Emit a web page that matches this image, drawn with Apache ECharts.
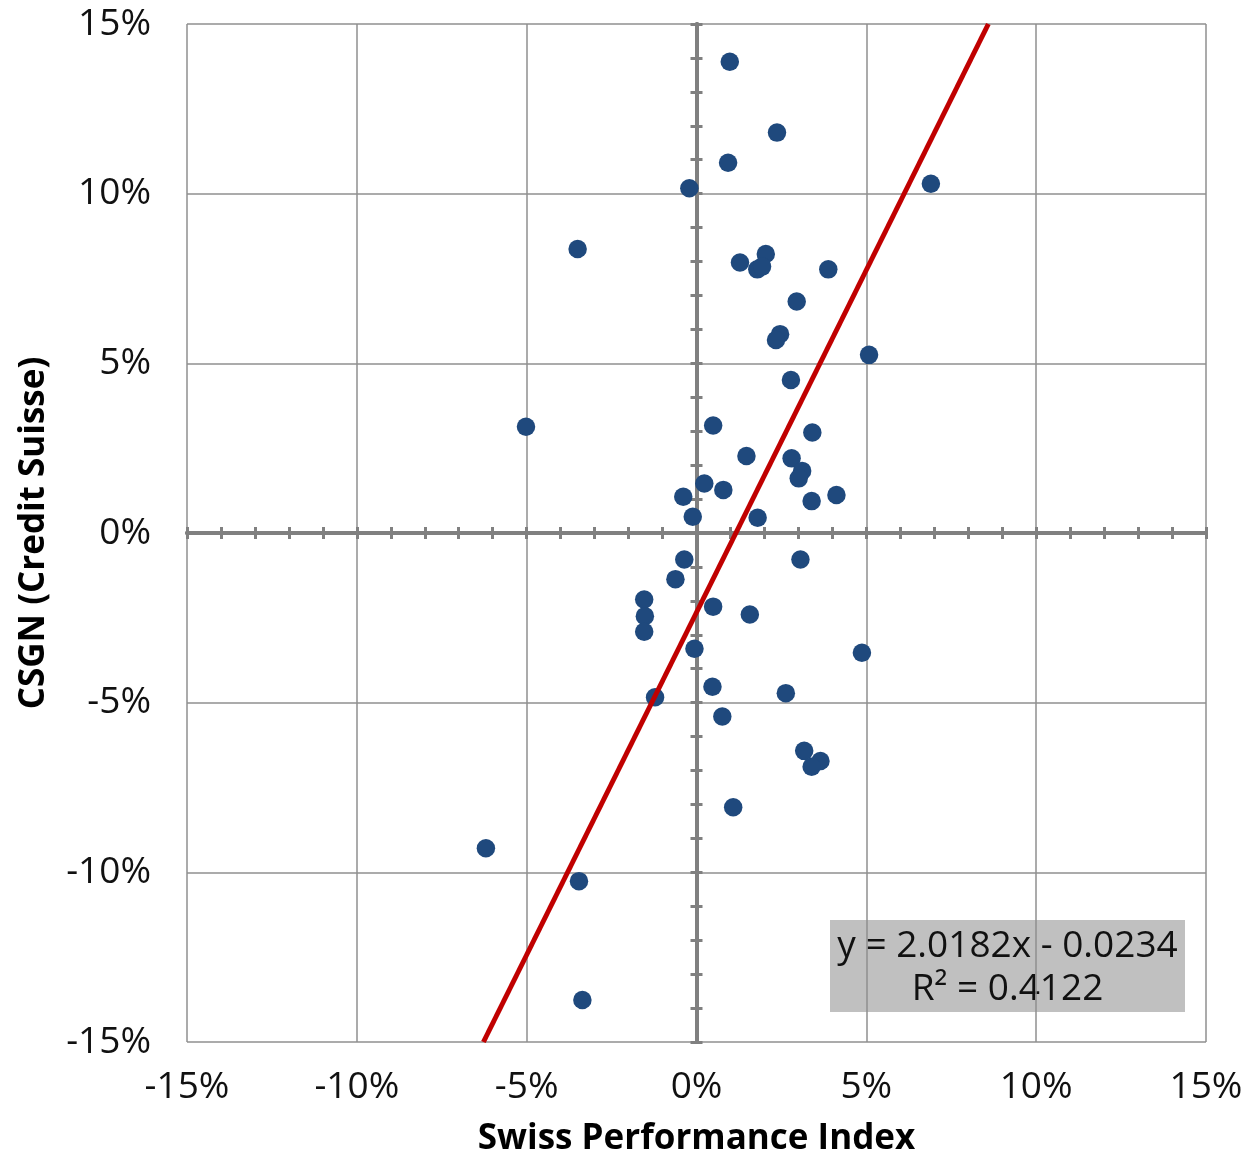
<!DOCTYPE html>
<html>
<head>
<meta charset="utf-8">
<title>CSGN vs Swiss Performance Index</title>
<script src="https://cdn.jsdelivr.net/npm/echarts@6/dist/echarts.min.js"></script>
<style>
  html, body { margin: 0; padding: 0; background: #ffffff; }
  #chart { width: 1249px; height: 1155px; }
</style>
</head>
<body>
<div id="chart"></div>
<script>
// Monthly returns, as fractions: Swiss Performance Index (x) vs CSGN (y)
const spiReturns = [
  0.0098, 0.0237, 0.0093, -0.0021, 0.0690, -0.0350, 0.0204, 0.0128, 0.0179, 0.0193,
  0.0388, 0.0295, 0.0246, 0.0234, 0.0508, 0.0278, -0.0502, 0.0049, 0.0341, 0.0147,
  0.0280, 0.0311, 0.0301, 0.0023, 0.0079, -0.0039, -0.0011, 0.0180, 0.0339, 0.0412,
  -0.0036, 0.0306, -0.0062, -0.0154, -0.0152, -0.0154, 0.0049, 0.0157, -0.0006, 0.0487,
  -0.0122, 0.0047, 0.0263, 0.0076, 0.0317, 0.0365, 0.0339, 0.0108, -0.0620, -0.0346,
  -0.0336
];
const csgnReturns = [
  0.1389, 0.1180, 0.1091, 0.1016, 0.1029, 0.0837, 0.0822, 0.0797, 0.0777, 0.0785,
  0.0777, 0.0682, 0.0586, 0.0569, 0.0525, 0.0451, 0.0313, 0.0317, 0.0296, 0.0227,
  0.0220, 0.0183, 0.0161, 0.0146, 0.0127, 0.0107, 0.0048, 0.0045, 0.0094, 0.0112,
  -0.0078, -0.0078, -0.0136, -0.0196, -0.0245, -0.0291, -0.0217, -0.0240, -0.0341, -0.0353,
  -0.0484, -0.0453, -0.0472, -0.0541, -0.0642, -0.0672, -0.0689, -0.0808, -0.0929, -0.1026,
  -0.1376
];

// Linear trend fitted to the returns
const trendSlope = 2.0182;
const trendIntercept = -0.0234;
const trendR2 = 0.4122;

// Axis range and ticks (fractions)
const axisMin = -0.15;
const axisMax = 0.15;
const axisStep = 0.05;

const points = spiReturns.map((x, i) => [x, csgnReturns[i]]);

// Trend line endpoints where it meets the plot boundary
const trendAt = x => trendSlope * x + trendIntercept;
const trendXLo = Math.max(axisMin, (axisMin - trendIntercept) / trendSlope);
const trendXHi = Math.min(axisMax, (axisMax - trendIntercept) / trendSlope);
const trendPoints = [[trendXLo, trendAt(trendXLo)], [trendXHi, trendAt(trendXHi)]];

const FONT = '"Open Sans", "Noto Sans", sans-serif';
const GREY = '#808080';
const pct = v => Math.round(v * 100) + '%';

const eqText = 'y = ' + trendSlope.toFixed(4) + 'x ' + (trendIntercept < 0 ? '- ' : '+ ') +
  Math.abs(trendIntercept).toFixed(4) + '\nR\u00B2 = ' + trendR2.toFixed(4);

// Base scale shared by every axis
const scale = { type: 'value', min: axisMin, max: axisMax, interval: axisStep };

// Cross-shaped tick marks on the zero lines: one axis ticks inward, another outward
function zeroAxis(inside, otherIndex) {
  return Object.assign({}, scale, {
    axisLine: { show: true, onZero: true, onZeroAxisIndex: otherIndex,
      lineStyle: { color: GREY, width: 4 } },
    axisTick: { show: true, inside: inside, length: 6, lineStyle: { color: GREY, width: 3 } },
    minorTick: { show: true, splitNumber: 5, length: 6, lineStyle: { color: GREY, width: 3 } },
    axisLabel: { show: false },
    splitLine: { show: false },
    minorSplitLine: { show: false }
  });
}

const chart = echarts.init(document.getElementById('chart'), null, { renderer: 'canvas' });

chart.setOption({
  backgroundColor: '#ffffff',
  animation: false,
  textStyle: { fontFamily: FONT },
  grid: { left: 187, right: 43, top: 24, bottom: 113, containLabel: false, outerBoundsMode: 'none' },
  xAxis: [
    Object.assign({}, scale, {
      position: 'bottom',
      name: 'Swiss Performance Index',
      nameLocation: 'middle',
      nameGap: 80,
      nameTextStyle: { fontFamily: FONT, fontSize: 35, fontWeight: 'bold', color: '#000' },
      axisLine: { show: false, onZero: false },
      axisTick: { show: false },
      axisLabel: { formatter: pct, fontFamily: FONT, fontSize: 37, color: '#111', margin: 27 },
      splitLine: { show: true, lineStyle: { color: '#8f8f8f', width: 1.5 } }
    }),
    Object.assign(zeroAxis(true, 0), { position: 'bottom' }),
    Object.assign(zeroAxis(false, 0), { position: 'bottom' })
  ],
  yAxis: [
    Object.assign({}, scale, {
      position: 'left',
      name: 'CSGN (Credit Suisse)',
      nameLocation: 'middle',
      nameGap: 135,
      nameTextStyle: { fontFamily: FONT, fontSize: 35, fontWeight: 'bold', color: '#000' },
      axisLine: { show: false, onZero: false },
      axisTick: { show: false },
      axisLabel: { formatter: pct, fontFamily: FONT, fontSize: 37, color: '#111', margin: 36 },
      splitLine: { show: true, lineStyle: { color: '#8f8f8f', width: 1.5 } }
    }),
    Object.assign(zeroAxis(true, 0), { position: 'left' }),
    Object.assign(zeroAxis(false, 0), { position: 'left' })
  ],
  series: [
    {
      name: 'Monthly returns',
      type: 'scatter',
      xAxisIndex: 0,
      yAxisIndex: 0,
      data: points,
      symbol: 'circle',
      symbolSize: 18.5,
      itemStyle: { color: '#1f497d', opacity: 1 },
      z: 3
    },
    {
      name: 'Linear trend',
      type: 'line',
      xAxisIndex: 0,
      yAxisIndex: 0,
      data: trendPoints,
      showSymbol: false,
      symbol: 'none',
      lineStyle: { color: '#c00000', width: 5 },
      clip: true,
      z: 4
    }
  ],
  graphic: [
    {
      type: 'group',
      left: 830,
      top: 920,
      z: 10,
      children: [
        { type: 'rect', shape: { x: 0, y: 0, width: 355, height: 92 }, style: { fill: '#c0c0c0' } },
        {
          type: 'text',
          x: 177.5,
          y: 48,
          style: {
            text: eqText,
            fontFamily: FONT,
            fontSize: 37,
            lineHeight: 43,
            fill: '#111',
            align: 'center',
            verticalAlign: 'middle'
          }
        }
      ]
    }
  ]
});
</script>
</body>
</html>
